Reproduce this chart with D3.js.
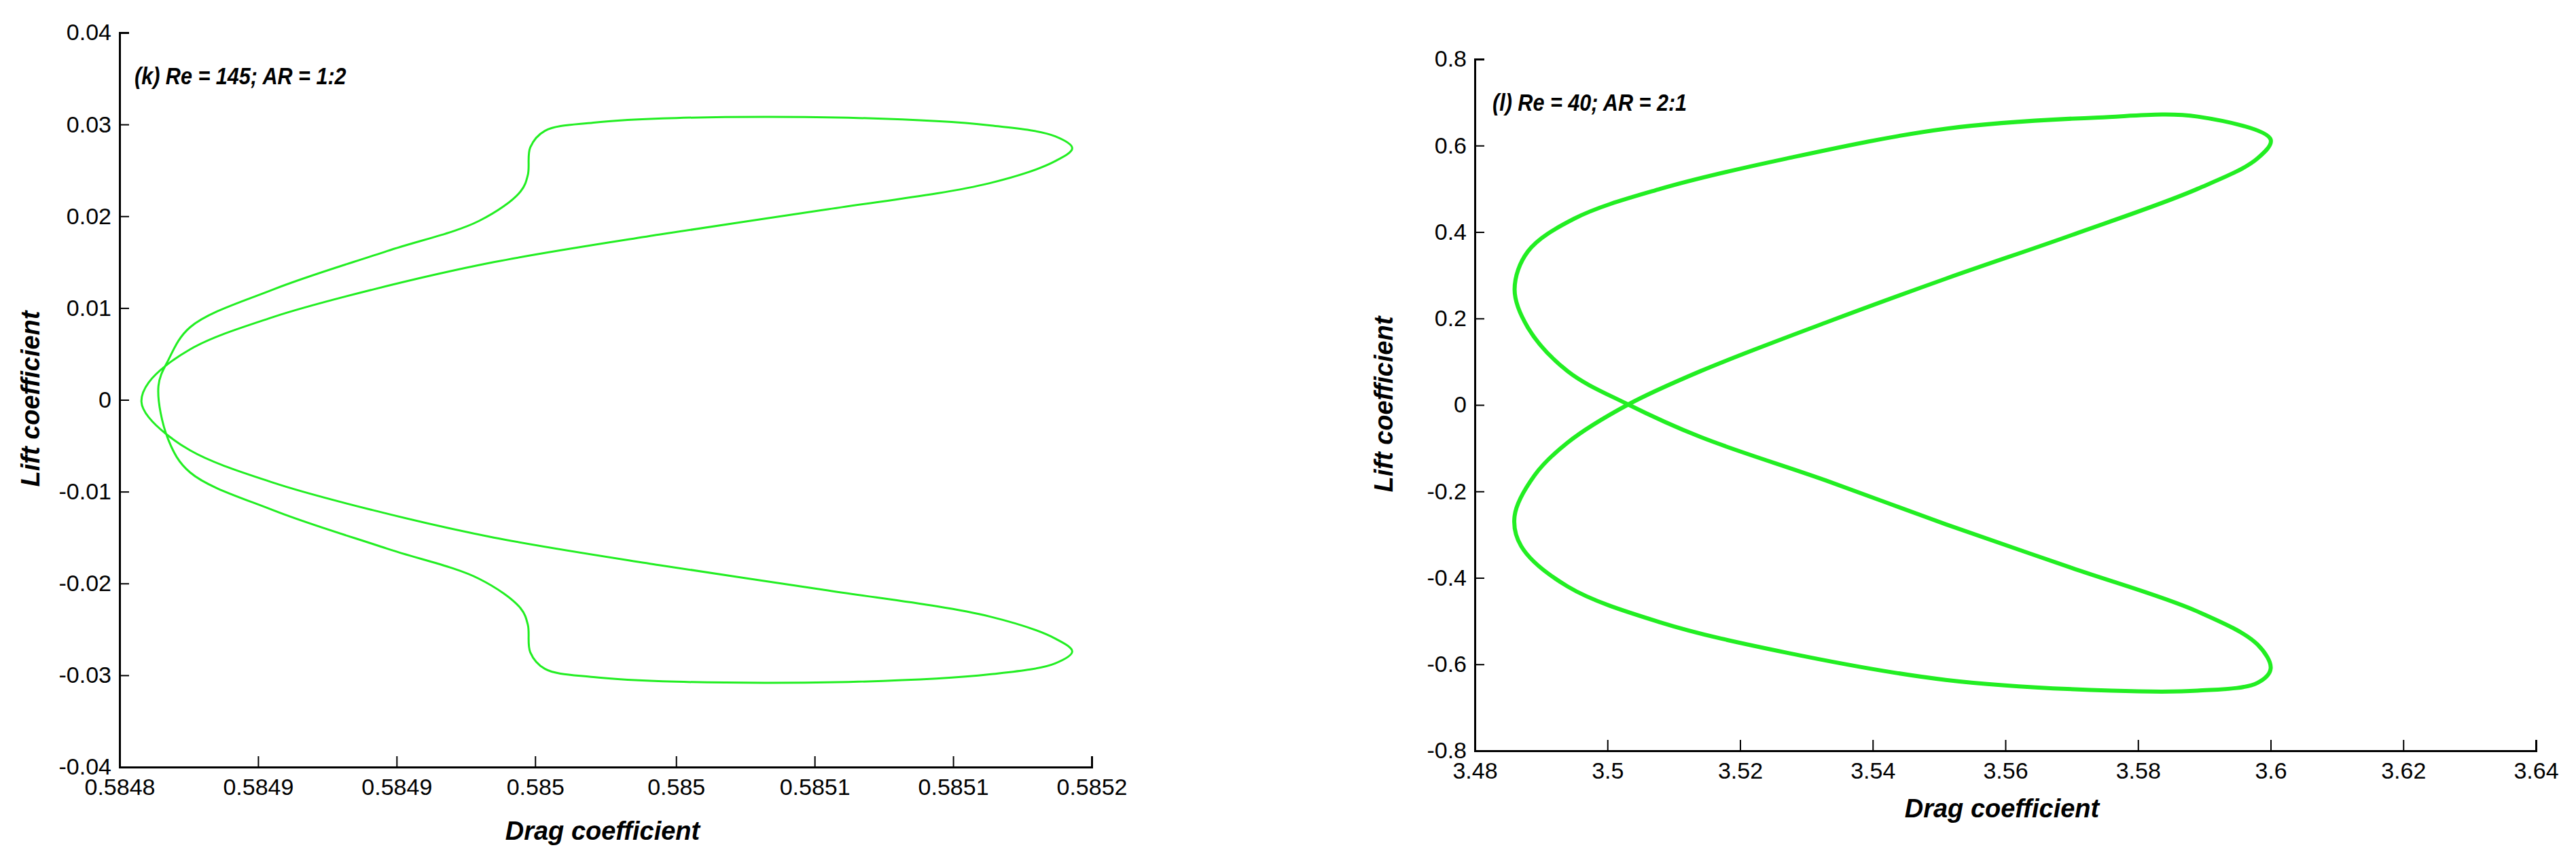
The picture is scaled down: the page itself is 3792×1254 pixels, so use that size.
<!DOCTYPE html>
<html><head><meta charset="utf-8">
<script src="https://cdn.jsdelivr.net/npm/d3@7"></script>
<style>body{margin:0;background:#fff}</style></head>
<body><svg id="c" width="3792" height="1254"></svg>
<script>
// Panel (k): Re = 145; AR = 1:2
const kXTicks = [0.5848,0.584857,0.584914,0.584971,0.585029,0.585086,0.585143,0.5852];
const kXLabels = ["0.5848","0.5849","0.5849","0.585","0.585","0.5851","0.5851","0.5852"];
const kYTicks = [-0.04,-0.03,-0.02,-0.01,0,0.01,0.02,0.03,0.04];
const kYLabels = ["-0.04","-0.03","-0.02","-0.01","0","0.01","0.02","0.03","0.04"];
const kDrag = [0.584816,0.58482,0.584829,0.584863,0.58491,0.584948,0.584965,0.584968,0.584969,0.584975,0.584995,0.585029,0.585104,0.585158,0.585185,0.585192,0.585185,0.585158,0.58509,0.585022,0.584954,0.584904,0.584863,0.584829,0.584812,0.584809,
  0.584812,0.584829,0.584863,0.584904,0.584954,0.585022,0.58509,0.585158,0.585185,0.585192,0.585185,0.585158,0.585104,0.585029,0.584995,0.584975,0.584969,0.584968,0.584965,0.584948,0.58491,0.584863,0.584829,0.58482];
const kLift = [0.0015,0.0043,0.0079,0.012,0.0162,0.0195,0.0227,0.0245,0.0275,0.0293,0.0302,0.0307,0.0307,0.0299,0.0287,0.0274,0.026,0.0236,0.0207,0.018,0.015,0.012,0.009,0.0055,0.0019,-0.0002,
  -0.0019,-0.0055,-0.009,-0.012,-0.015,-0.018,-0.0207,-0.0236,-0.026,-0.0274,-0.0287,-0.0299,-0.0307,-0.0307,-0.0302,-0.0293,-0.0275,-0.0245,-0.0227,-0.0195,-0.0162,-0.012,-0.0079,-0.0043];

// Panel (l): Re = 40; AR = 2:1
const lXTicks = [3.48,3.5,3.52,3.54,3.56,3.58,3.6,3.62,3.64];
const lXLabels = ["3.48","3.5","3.52","3.54","3.56","3.58","3.6","3.62","3.64"];
const lYTicks = [-0.8,-0.6,-0.4,-0.2,0,0.2,0.4,0.6,0.8];
const lYLabels = ["-0.8","-0.6","-0.4","-0.2","0","0.2","0.4","0.6","0.8"];
const lDrag = [3.6,3.589,3.574,3.551,3.527,3.508,3.495,3.488,3.486,3.488,3.494,3.503,3.514,3.533,3.551,3.570,3.589,3.598,3.6,3.598,3.589,3.576,3.551,3.527,3.508,3.494,3.487,3.486,3.489,3.494,3.503,3.514,3.533,3.551,3.570,3.589,3.598];
const lLift = [0.614,0.667,0.665,0.639,0.57,0.5,0.431,0.355,0.267,0.179,0.078,0.002,-0.074,-0.175,-0.276,-0.377,-0.478,-0.554,-0.61,-0.643,-0.661,-0.661,-0.636,-0.573,-0.503,-0.42,-0.327,-0.257,-0.163,-0.087,0,0.078,0.191,0.292,0.393,0.5,0.57];

const svg = d3.select("#c");
const tickFont = "'Liberation Sans Narrow','Arial Narrow','Liberation Sans',sans-serif";
const boldFont = "'Liberation Sans','Arial',sans-serif";

function panel(o){
  const x = d3.scaleLinear().domain(o.xd).range([o.x0,o.x1]);
  const y = d3.scaleLinear().domain(o.yd).range([o.y1,o.y0]);
  const g = svg.append("g");
  const xa = g.append("g").attr("transform",`translate(0,${o.y1})`)
    .call(d3.axisBottom(x).tickValues(o.xt).tickSize(-16).tickPadding(10).tickFormat((d,i)=>o.xl[i]));
  const ya = g.append("g").attr("transform",`translate(${o.x0},0)`)
    .call(d3.axisLeft(y).tickValues(o.yt).tickSize(-14).tickPadding(12).tickFormat((d,i)=>o.yl[i]));
  [xa,ya].forEach(a=>{
    a.select(".domain").attr("stroke","#000").attr("stroke-width",3);
    a.selectAll(".tick line").attr("stroke","#000").attr("stroke-width",2);
    a.selectAll("text").attr("font-family",tickFont).attr("font-size",34).attr("fill","#000");
  });
  xa.selectAll("text").attr("dy","0.9em");
  g.append("path").datum(o.dx.map((d,i)=>[d,o.dy[i]]))
    .attr("d",d3.line().x(d=>x(d[0])).y(d=>y(d[1])).curve(d3.curveCatmullRomClosed.alpha(0.5)))
    .attr("fill","none").attr("stroke","#22ee22").attr("stroke-width",o.sw);
  g.append("text").attr("x",o.tx).attr("y",o.ty).text(o.title)
    .attr("font-family",boldFont).attr("font-weight","bold").attr("font-style","italic").attr("font-size",36)
    .attr("transform",`translate(${o.tx},${o.ty}) scale(0.85,1) translate(${-o.tx},${-o.ty})`);
  g.append("text").attr("x",o.xlx).attr("y",o.xly).attr("text-anchor","middle").text("Drag coefficient")
    .attr("font-family",boldFont).attr("font-weight","bold").attr("font-style","italic").attr("font-size",38);
  g.append("text").attr("transform",`translate(${o.ylx},${o.yly}) rotate(-90)`).attr("text-anchor","middle").text("Lift coefficient")
    .attr("font-family",boldFont).attr("font-weight","bold").attr("font-style","italic").attr("font-size",38);
}

panel({xd:[0.5848,0.5852],yd:[-0.04,0.04],x0:176,x1:1607,y0:48,y1:1129,
  xt:kXTicks, xl:kXLabels, yt:kYTicks, yl:kYLabels,
  dx:kDrag, dy:kLift, sw:3, title:"(k) Re = 145; AR = 1:2", tx:198, ty:124,
  xlx:887, xly:1236, ylx:58, yly:587});

panel({xd:[3.48,3.64],yd:[-0.8,0.8],x0:2171,x1:3733,y0:87,y1:1105,
  xt:lXTicks, xl:lXLabels, yt:lYTicks, yl:lYLabels,
  dx:lDrag, dy:lLift, sw:6, title:"(l) Re = 40; AR = 2:1", tx:2197, ty:163,
  xlx:2947, xly:1203, ylx:2050, yly:595});
</script>
</body></html>
